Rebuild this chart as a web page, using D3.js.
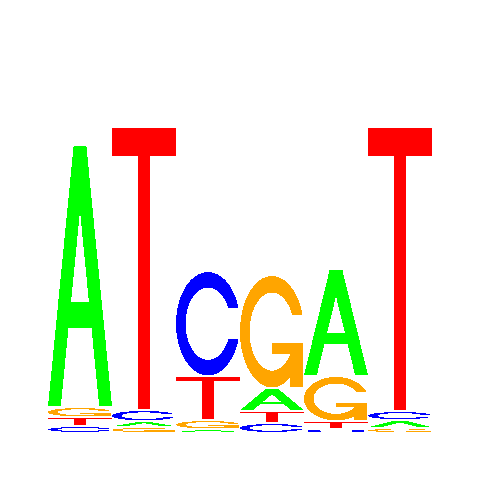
<!DOCTYPE html>
<html>
<head>
<meta charset="utf-8">
<script src="https://cdn.jsdelivr.net/npm/d3@7"></script>
<style>
  html, body { margin: 0; padding: 0; background: #fff; }
</style>
</head>
<body>
<svg id="logo" width="480" height="480"></svg>
<script>
// positions along the motif
const positions = [1, 2, 3, 4, 5, 6];
// letter heights in bits, per position
const bitsA = [1.628, 0.0275, 0.0125, 0.134, 0.659, 0.04];
const bitsC = [0.031, 0.059, 0.646, 0.05, 0.0125, 0.046];
const bitsG = [0.053, 0.025, 0.046, 0.696, 0.271, 0.019];
const bitsT = [0.046, 1.759, 0.265, 0.065, 0.04, 1.765];

const letters = ['A', 'C', 'G', 'T'];
const colors = { A: '#00ff00', C: '#0000ff', G: '#ffa500', T: '#ff0000' };
const bits = { A: bitsA, C: bitsC, G: bitsG, T: bitsT };
const gap = 0.01; // small space between stacked letters

const x = d3.scaleBand().domain(positions).range([48, 432]).padding(0);
const y = d3.scaleLinear().domain([0, 2]).range([432, 112]);

// ---- letter outlines in a unit box (x right, y up) ----
function seq(a, b, n) {
  return d3.range(n).map(i => a + (b - a) * i / (n - 1));
}

function ringShape() {
  const a1 = seq(0.3 + Math.PI / 2, Math.PI, 100);
  const a2 = seq(Math.PI, 1.5 * Math.PI, 100);
  const ol1 = a1.map(a => [0.5 + 0.5 * Math.sin(a), 0.5 + 0.5 * Math.cos(a)]);
  const ol2 = a2.map(a => [0.5 + 0.5 * Math.sin(a), 0.5 + 0.5 * Math.cos(a)]);
  const ol = ol1.concat(ol2);
  const outer = ol.concat(ol.slice().reverse().map(p => [p[0], 1 - p[1]]));

  const hMax = d3.max(ol1, p => p[1]);
  let il1 = a1.map(a => [0.5 + 0.35 * Math.sin(a), 0.5 + 0.35 * Math.cos(a)])
    .filter(p => p[1] <= hMax);
  il1[0] = [il1[0][0], hMax];
  const il2 = a2.map(a => [0.5 + 0.35 * Math.sin(a), 0.5 + 0.35 * Math.cos(a)]);
  const il = il1.concat(il2);
  const inner = il.concat(il.slice().reverse().map(p => [p[0], 1 - p[1]]));

  return { pts: outer.concat(inner.slice().reverse()), r1: d3.max(ol1, p => p[0]) };
}

const ring = ringShape();

// each letter: list of [points, isHole]
const shapes = {
  A: [
    [[0, 0], [0.4, 1], [0.6, 1], [1, 0], [0.8, 0], [0.68, 0.3], [0.32, 0.3], [0.2, 0], [0, 0]],
    [[0.36, 0.4], [0.5, 0.75], [0.64, 0.4], [0.36, 0.4]]
  ],
  T: [
    [[0, 1], [1, 1], [1, 0.9], [0.6, 0.9], [0.6, 0], [0.4, 0], [0.4, 0.9], [0, 0.9]]
  ],
  C: [ring.pts],
  G: [
    ring.pts.slice().reverse(),
    [[ring.r1, 0.4], [0.5, 0.4], [0.5, 0.3], [ring.r1 - 0.2, 0.3],
     [ring.r1 - 0.2, 0], [ring.r1, 0], [ring.r1, 0.4]]
  ]
};
const holeIndex = { A: 1 };

// build stacks: smallest at the bottom
const stacks = positions.map((p, i) => {
  const col = letters.map(l => ({ letter: l, h: bits[l][i], pos: p }))
    .sort((a, b) => a.h - b.h);
  let cum = 0;
  col.forEach(d => { d.y0 = cum; cum += d.h + gap; });
  return col;
});

const svg = d3.select('#logo');

const line = d3.line();

const glyphs = svg.selectAll('g.col')
  .data(stacks)
  .enter().append('g')
  .attr('class', 'col')
  .selectAll('g.letter')
  .data(d => d)
  .enter().append('g')
  .attr('class', 'letter');

glyphs.selectAll('path')
  .data(d => shapes[d.letter].map((pts, k) => ({ d, pts, k })))
  .enter().append('path')
  .attr('d', s => {
    const w = x.bandwidth();
    const x0 = x(s.d.pos);
    return line(s.pts.map(p => [x0 + p[0] * w, y(s.d.y0 + p[1] * s.d.h)])) + 'Z';
  })
  .attr('fill', s => (holeIndex[s.d.letter] === s.k ? '#ffffff' : colors[s.d.letter]))
  .attr('stroke', 'none')
  .attr('shape-rendering', 'crispEdges');
</script>
</body>
</html>
